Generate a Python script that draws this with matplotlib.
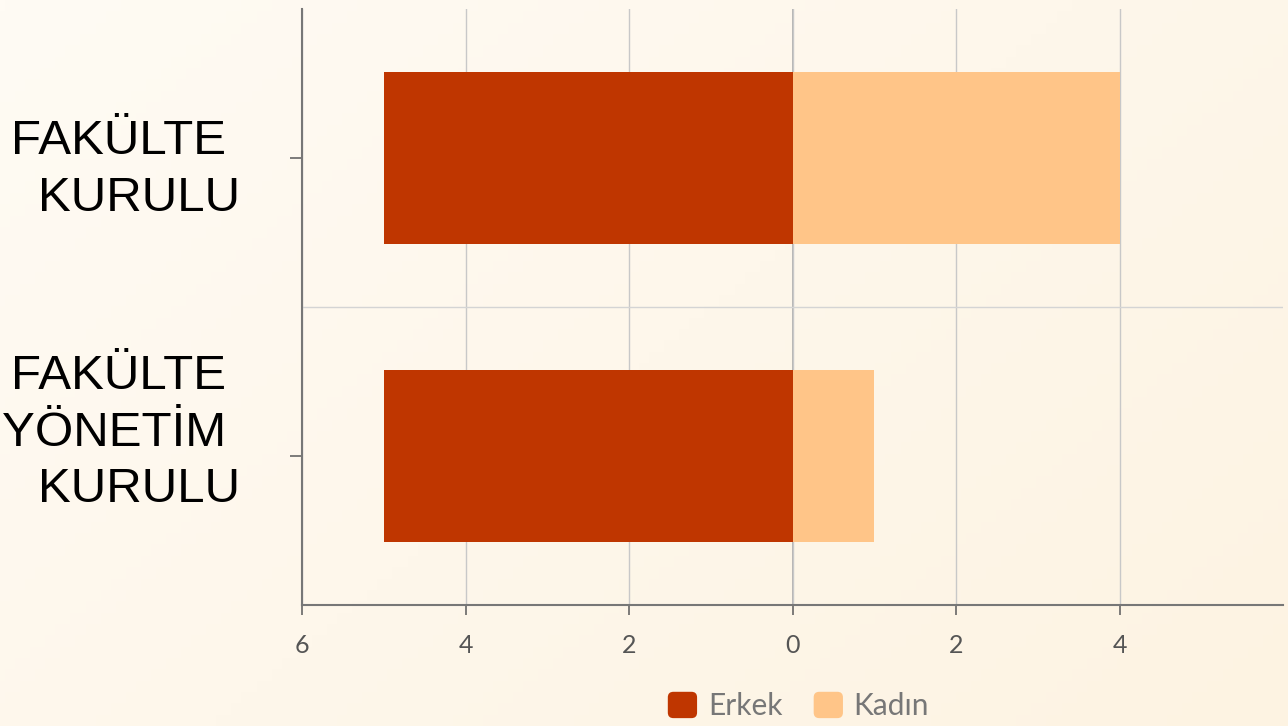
"""
Diverging horizontal bar chart: Erkek / Kadın members per board.
"""
import numpy as np
import matplotlib.pyplot as plt
from matplotlib.patches import Patch, FancyBboxPatch
from matplotlib.legend_handler import HandlerPatch

categories = ['FAKÜLTE \nYÖNETİM \nKURULU', 'FAKÜLTE \nKURULU']
erkek = [5, 5]
kadin = [1, 4]
xticks = [-6, -4, -2, 0, 2, 4]

ERKEK_COLOR = '#bf3600'
KADIN_COLOR = '#ffc588'


def rounded_square(legend, orig_handle, xdescent, ydescent, width, height, fontsize):
    return FancyBboxPatch((-xdescent, -ydescent), width, height,
                          boxstyle='round,pad=0,rounding_size=4')


fig = plt.figure(figsize=(12.88, 7.26), dpi=100)

# soft cream gradient background
bg = fig.add_axes([0, 0, 1, 1], zorder=-10)
gx = np.linspace(0, 1, 256)
gy = np.linspace(0, 1, 64)
gxx, gyy = np.meshgrid(gx, gy)
t = np.clip(0.6 * gxx + 0.4 * gyy, 0, 1)
c0 = np.array([255, 251, 244]) / 255
c1 = np.array([253, 243, 226]) / 255
img = c0[None, None, :] * (1 - t[..., None]) + c1[None, None, :] * t[..., None]
bg.imshow(img, aspect='auto', extent=[0, 1, 0, 1], origin='upper')
bg.axis('off')

ax = fig.add_axes([302 / 1288, 1 - 605 / 726, (1283 - 302) / 1288, (605 - 9) / 726])
ax.patch.set_alpha(0)

y = np.arange(len(categories))
ax.barh(y, [-v for v in erkek], height=0.58, color=ERKEK_COLOR, zorder=3)
ax.barh(y, kadin, height=0.58, color=KADIN_COLOR, zorder=3)

ax.set_xlim(-6, 6)
ax.set_ylim(-0.5, len(categories) - 0.5)
ax.set_xticks(xticks)
ax.set_xticklabels([str(abs(v)) for v in xticks], family='Lato', fontsize=18, color='#555555')
ax.set_yticks(y)
ax.set_yticklabels([])
ax.set_yticks(y[:-1] + 0.5, minor=True)

# category labels; the three-line one sits a bit above its tick in the original
label_lift = [16.4, -8.6]
for yi, name, lift in zip(y, categories, label_lift):
    ax.annotate(name, xy=(0, yi), xycoords=('axes fraction', 'data'),
                xytext=(-44.8, lift), textcoords='offset points',
                ha='right', va='center', multialignment='right',
                family='Liberation Sans', fontsize=35.5, color='black',
                linespacing=1.33, annotation_clip=False)

ax.tick_params(axis='x', length=7, width=1.2, color='#666666', pad=14)
ax.tick_params(axis='y', which='major', length=9, width=1.2, color='#666666')
ax.tick_params(axis='y', which='minor', length=0)

ax.grid(axis='x', color='#c8c8c8', linewidth=1.0, zorder=0)
ax.grid(axis='y', which='minor', color='#d4d4d4', linewidth=1.0, zorder=0)
ax.axvline(0, color='#a8a8a8', linewidth=1.2, zorder=1)

for side in ('top', 'right'):
    ax.spines[side].set_visible(False)
for side in ('left', 'bottom'):
    ax.spines[side].set_color('#777777')
    ax.spines[side].set_linewidth(1.5)

handles = [Patch(facecolor=ERKEK_COLOR, label='Erkek'),
           Patch(facecolor=KADIN_COLOR, label='Kadın')]
leg = fig.legend(handles=handles, loc='center',
                 bbox_to_anchor=(((302 + 1283) / 2 + 6) / 1288, 1 - 706 / 726),
                 ncol=2, frameon=False, prop={'family': 'Lato', 'size': 21.5},
                 handlelength=0.98, handleheight=0.98, handletextpad=0.36,
                 columnspacing=1.05,
                 handler_map={Patch: HandlerPatch(patch_func=rounded_square)})
for txt in leg.get_texts():
    txt.set_color('#777777')

fig.savefig('out.png', dpi=100)
